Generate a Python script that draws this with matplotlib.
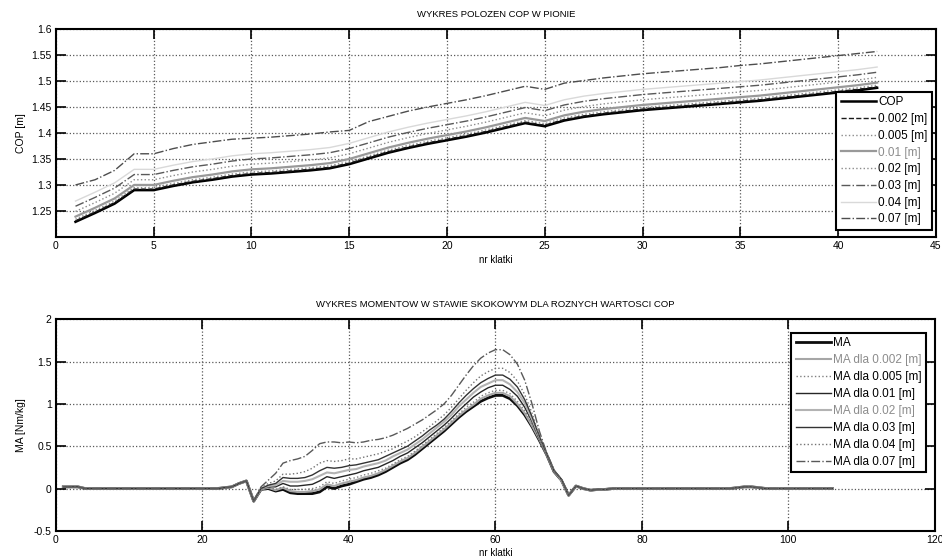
import numpy as np
import matplotlib
matplotlib.use("Agg")
import matplotlib.pyplot as plt
from matplotlib.ticker import FormatStrFormatter

plt.rcParams['font.family'] = ['Liberation Sans', 'DejaVu Sans']

# --- top chart: vertical COP position per frame ---
frames_cop = np.arange(1, 43)
cop = [1.229, 1.246, 1.264, 1.290, 1.290, 1.298, 1.305, 1.310, 1.316, 1.320, 1.322, 1.325, 1.328, 1.332,
       1.340, 1.351, 1.362, 1.371, 1.379, 1.386, 1.393, 1.401, 1.410, 1.419, 1.413, 1.424, 1.431, 1.436,
       1.440, 1.444, 1.447, 1.450, 1.453, 1.456, 1.459, 1.462, 1.466, 1.470, 1.474, 1.478, 1.482, 1.487]
cop_002 = [1.231, 1.248, 1.266, 1.292, 1.292, 1.300, 1.307, 1.312, 1.318, 1.322, 1.324, 1.327, 1.330, 1.334,
           1.342, 1.353, 1.364, 1.373, 1.381, 1.388, 1.395, 1.403, 1.412, 1.421, 1.415, 1.426, 1.433, 1.438,
           1.442, 1.446, 1.449, 1.452, 1.455, 1.458, 1.461, 1.464, 1.468, 1.472, 1.476, 1.480, 1.484, 1.489]
cop_005 = [1.234, 1.251, 1.269, 1.295, 1.295, 1.303, 1.310, 1.315, 1.321, 1.325, 1.327, 1.330, 1.333, 1.337,
           1.345, 1.356, 1.367, 1.376, 1.384, 1.391, 1.398, 1.406, 1.415, 1.424, 1.418, 1.429, 1.436, 1.441,
           1.445, 1.449, 1.452, 1.455, 1.458, 1.461, 1.464, 1.467, 1.471, 1.475, 1.479, 1.483, 1.487, 1.492]
cop_01 = [1.239, 1.256, 1.274, 1.300, 1.300, 1.308, 1.315, 1.320, 1.326, 1.330, 1.332, 1.335, 1.338, 1.342,
          1.350, 1.361, 1.372, 1.381, 1.389, 1.396, 1.403, 1.411, 1.420, 1.429, 1.423, 1.434, 1.441, 1.446,
          1.450, 1.454, 1.457, 1.460, 1.463, 1.466, 1.469, 1.472, 1.476, 1.480, 1.484, 1.488, 1.492, 1.497]
cop_02 = [1.249, 1.266, 1.284, 1.310, 1.310, 1.318, 1.325, 1.330, 1.336, 1.340, 1.342, 1.345, 1.348, 1.352,
          1.360, 1.371, 1.382, 1.391, 1.399, 1.406, 1.413, 1.421, 1.430, 1.439, 1.433, 1.444, 1.451, 1.456,
          1.460, 1.464, 1.467, 1.470, 1.473, 1.476, 1.479, 1.482, 1.486, 1.490, 1.494, 1.498, 1.502, 1.507]
cop_03 = [1.259, 1.276, 1.294, 1.320, 1.320, 1.328, 1.335, 1.340, 1.346, 1.350, 1.352, 1.355, 1.358, 1.362,
          1.370, 1.381, 1.392, 1.401, 1.409, 1.416, 1.423, 1.431, 1.440, 1.449, 1.443, 1.454, 1.461, 1.466,
          1.470, 1.474, 1.477, 1.480, 1.483, 1.486, 1.489, 1.492, 1.496, 1.500, 1.504, 1.508, 1.512, 1.517]
cop_04 = [1.269, 1.286, 1.304, 1.330, 1.330, 1.338, 1.345, 1.350, 1.356, 1.360, 1.362, 1.365, 1.368, 1.372,
          1.380, 1.391, 1.402, 1.411, 1.419, 1.426, 1.433, 1.441, 1.450, 1.459, 1.453, 1.464, 1.471, 1.476,
          1.480, 1.484, 1.487, 1.490, 1.493, 1.496, 1.499, 1.502, 1.506, 1.510, 1.514, 1.518, 1.522, 1.527]
cop_07 = [1.300, 1.310, 1.328, 1.360, 1.360, 1.370, 1.378, 1.383, 1.388, 1.390, 1.392, 1.395, 1.398, 1.402,
          1.405, 1.422, 1.432, 1.442, 1.450, 1.457, 1.464, 1.472, 1.481, 1.490, 1.484, 1.496, 1.501, 1.506,
          1.510, 1.514, 1.517, 1.520, 1.523, 1.526, 1.530, 1.533, 1.537, 1.541, 1.545, 1.549, 1.553, 1.557]

# --- bottom chart: ankle moment MA per frame ---
# frames 1..27 and 70..106 are the same for every COP value
ma_left = [0.02, 0.02, 0.02, 0.00, 0.00, 0.00, 0.00, 0.00, 0.00, 0.00, 0.00, 0.00, 0.00, 0.00,
           0.00, 0.00, 0.00, 0.00, 0.00, 0.00, 0.00, 0.00, 0.01, 0.02, 0.06, 0.09, -0.15]
ma_right = [-0.08, 0.03, 0.00, -0.02, -0.01, -0.01, 0.00, 0.00, 0.00, 0.00, 0.00, 0.00, 0.00,
            0.00, 0.00, 0.00, 0.00, 0.00, 0.00, 0.00, 0.00, 0.00, 0.00, 0.01, 0.02, 0.02, 0.01,
            0.00, 0.00, 0.00, 0.00, 0.00, 0.00, 0.00, 0.00, 0.00, 0.00]
# frames 28..69
ma_mid = [-0.01, 0.00, -0.03, -0.01, -0.05, -0.06, -0.06, -0.06, -0.04, 0.02, 0.00, 0.03, 0.05, 0.08,
          0.11, 0.13, 0.16, 0.20, 0.25, 0.30, 0.34, 0.40, 0.47, 0.54, 0.61, 0.68, 0.76, 0.84,
          0.91, 0.97, 1.03, 1.07, 1.10, 1.10, 1.06, 0.98, 0.87, 0.73, 0.57, 0.40, 0.20, 0.10]
ma_002 = [-0.01, 0.01, -0.02, 0.01, -0.03, -0.04, -0.04, -0.03, -0.01, 0.05, 0.03, 0.06, 0.08, 0.10,
          0.13, 0.15, 0.18, 0.22, 0.27, 0.32, 0.36, 0.42, 0.49, 0.56, 0.63, 0.70, 0.78, 0.86,
          0.93, 0.99, 1.06, 1.10, 1.13, 1.13, 1.09, 1.00, 0.89, 0.74, 0.58, 0.40, 0.20, 0.10]
ma_005 = [-0.01, 0.01, -0.01, 0.02, -0.01, -0.01, -0.01, 0.00, 0.02, 0.08, 0.06, 0.09, 0.11, 0.13,
          0.16, 0.18, 0.21, 0.24, 0.29, 0.34, 0.38, 0.44, 0.51, 0.58, 0.65, 0.72, 0.80, 0.88,
          0.96, 1.02, 1.09, 1.13, 1.16, 1.16, 1.12, 1.03, 0.92, 0.76, 0.58, 0.40, 0.20, 0.10]
ma_01 = [0.00, 0.02, 0.02, 0.06, 0.03, 0.03, 0.04, 0.05, 0.09, 0.14, 0.12, 0.14, 0.16, 0.18,
         0.21, 0.23, 0.25, 0.29, 0.33, 0.38, 0.42, 0.48, 0.54, 0.61, 0.68, 0.75, 0.83, 0.92,
         1.00, 1.08, 1.14, 1.19, 1.22, 1.22, 1.17, 1.09, 0.96, 0.79, 0.59, 0.40, 0.20, 0.10]
ma_02 = [0.00, 0.03, 0.04, 0.09, 0.08, 0.08, 0.09, 0.11, 0.15, 0.19, 0.18, 0.20, 0.22, 0.23,
         0.26, 0.28, 0.30, 0.33, 0.38, 0.42, 0.46, 0.52, 0.58, 0.65, 0.72, 0.79, 0.87, 0.97,
         1.05, 1.13, 1.20, 1.24, 1.28, 1.28, 1.23, 1.14, 1.01, 0.82, 0.61, 0.41, 0.21, 0.10]
ma_03 = [0.00, 0.04, 0.06, 0.13, 0.12, 0.12, 0.13, 0.16, 0.21, 0.25, 0.24, 0.25, 0.27, 0.28,
         0.30, 0.32, 0.34, 0.38, 0.42, 0.46, 0.50, 0.56, 0.62, 0.69, 0.75, 0.82, 0.91, 1.01,
         1.10, 1.18, 1.25, 1.30, 1.34, 1.34, 1.29, 1.20, 1.05, 0.85, 0.62, 0.41, 0.21, 0.11]
ma_04 = [0.01, 0.06, 0.09, 0.17, 0.17, 0.18, 0.20, 0.24, 0.30, 0.33, 0.32, 0.33, 0.35, 0.35,
         0.37, 0.39, 0.41, 0.44, 0.47, 0.52, 0.56, 0.61, 0.67, 0.73, 0.80, 0.87, 0.96, 1.06,
         1.16, 1.25, 1.33, 1.38, 1.42, 1.42, 1.37, 1.27, 1.11, 0.89, 0.63, 0.41, 0.21, 0.11]
ma_07 = [0.02, 0.10, 0.18, 0.30, 0.33, 0.35, 0.38, 0.45, 0.53, 0.55, 0.55, 0.54, 0.55, 0.54,
         0.55, 0.57, 0.58, 0.60, 0.63, 0.67, 0.71, 0.76, 0.81, 0.87, 0.93, 1.00, 1.10, 1.22,
         1.34, 1.45, 1.54, 1.60, 1.64, 1.64, 1.58, 1.47, 1.28, 1.00, 0.68, 0.42, 0.22, 0.11]
frames_ma = np.arange(1, 107)

cop_labels = ['COP', '0.002 [m]', '0.005 [m]', '0.01 [m]', '0.02 [m]', '0.03 [m]', '0.04 [m]', '0.07 [m]']
ma_labels = ['MA', 'MA dla 0.002 [m]', 'MA dla 0.005 [m]', 'MA dla 0.01 [m]', 'MA dla 0.02 [m]',
             'MA dla 0.03 [m]', 'MA dla 0.04 [m]', 'MA dla 0.07 [m]']

# line styles (scan of a matlab figure, so everything is grey)
cop_styles = [('0.0', '-', 1.8), ('0.1', '--', 1.0), ('0.55', ':', 1.0), ('0.6', '-', 1.6),
              ('0.55', ':', 1.0), ('0.35', '-.', 1.0), ('0.85', '-', 1.0), ('0.3', '-.', 1.0)]
ma_styles = [('0.05', '-', 2.0), ('0.65', '-', 1.5), ('0.5', ':', 1.0), ('0.15', '-', 1.0),
             ('0.7', '-', 1.5), ('0.2', '-', 1.0), ('0.45', ':', 1.0), ('0.35', '-.', 1.0)]


def style_axes(ax):
    ax.grid(True, linestyle=':', color='0.35', linewidth=0.9)
    ax.tick_params(direction='in', length=7, width=1.2, top=True, right=True, labelsize=7.5, pad=3)
    for s in ax.spines.values():
        s.set_linewidth(1.5)
    ax.yaxis.set_major_formatter(FormatStrFormatter('%g'))


fig = plt.figure(figsize=(9.42, 5.6), dpi=100)

ax1 = fig.add_axes([0.0594, 0.577, 0.934, 0.371])
cop_series = [cop, cop_002, cop_005, cop_01, cop_02, cop_03, cop_04, cop_07]
for vals, lab, (c, ls, lw) in zip(cop_series, cop_labels, cop_styles):
    ax1.plot(frames_cop, vals, color=c, linestyle=ls, linewidth=lw, label=lab)
ax1.set_xlim(0, 45)
ax1.set_ylim(1.2, 1.6)
ax1.set_xticks(np.arange(0, 46, 5))
ax1.set_yticks([1.25, 1.3, 1.35, 1.4, 1.45, 1.5, 1.55, 1.6])
style_axes(ax1)
ax1.set_title('WYKRES POLOZEN COP W PIONIE', fontsize=6.8, pad=9)
ax1.set_xlabel('nr klatki', fontsize=7, labelpad=3)
ax1.set_ylabel('COP [m]', fontsize=7.5, labelpad=4)
leg1 = ax1.legend(loc='lower right', bbox_to_anchor=(0.9955, 0.035), fontsize=8.5, fancybox=False,
                  edgecolor='black', framealpha=1, handlelength=3.0, handletextpad=0.2,
                  labelspacing=0.4, borderpad=0.35, borderaxespad=0)
leg1.get_frame().set_linewidth(1.5)
leg1.get_texts()[3].set_color('0.55')

ax2 = fig.add_axes([0.0594, 0.052, 0.933, 0.378])
ma_series = [ma_mid, ma_002, ma_005, ma_01, ma_02, ma_03, ma_04, ma_07]
for mid, lab, (c, ls, lw) in zip(ma_series, ma_labels, ma_styles):
    vals = np.concatenate([ma_left, mid, ma_right])
    ax2.plot(frames_ma, vals, color=c, linestyle=ls, linewidth=lw, label=lab)
ax2.set_xlim(0, 120)
ax2.set_ylim(-0.5, 2)
ax2.set_xticks(np.arange(0, 121, 20))
ax2.set_yticks([-0.5, 0, 0.5, 1, 1.5, 2])
style_axes(ax2)
ax2.set_title('WYKRES MOMENTOW W STAWIE SKOKOWYM DLA ROZNYCH WARTOSCI COP', fontsize=6.8, pad=9)
ax2.set_xlabel('nr klatki', fontsize=7, labelpad=2)
ax2.set_ylabel('MA [Nm/kg]', fontsize=7.5, labelpad=6)
leg2 = ax2.legend(loc='upper right', bbox_to_anchor=(0.99, 0.935), fontsize=8.5, fancybox=False,
                  edgecolor='black', framealpha=1, handlelength=3.0, handletextpad=0.2,
                  labelspacing=0.42, borderpad=0.35, borderaxespad=0)
leg2.get_frame().set_linewidth(1.5)
leg2.get_texts()[1].set_color('0.55')
leg2.get_texts()[4].set_color('0.55')

fig.savefig('out.png', dpi=100)
plt.close()
